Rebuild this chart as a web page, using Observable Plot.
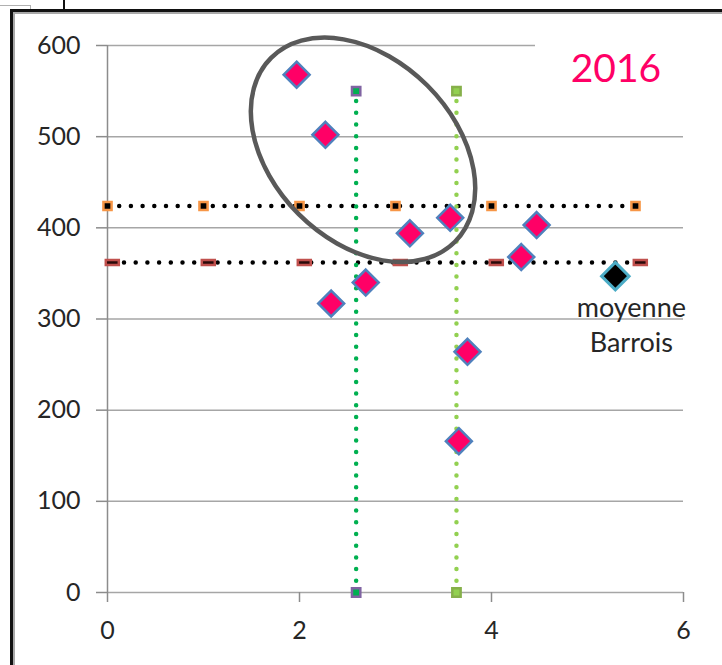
<!DOCTYPE html>
<html>
<head>
<meta charset="utf-8">
<script src="https://cdn.jsdelivr.net/npm/d3@7"></script>
<script src="https://cdn.jsdelivr.net/npm/@observablehq/plot@0.6"></script>
<style>
html, body { margin: 0; padding: 0; background: #fff; }
#wrap { position: relative; width: 722px; height: 665px; overflow: hidden; font-family: Lato, sans-serif; }
#wrap svg { position: absolute; left: 0; top: 0; }
.deco { position: absolute; z-index: 5; }
#title { position: absolute; z-index: 4; left: 535px; top: 30px; width: 162px; height: 62px; background: #fff;
  color: #FF0066; font-family: Lato, sans-serif; font-size: 39px; line-height: 47px; padding-top: 14px;
  box-sizing: border-box; text-align: center; }
</style>
</head>
<body>
<div id="wrap">
  <div id="title">2016</div>
  <div class="deco" style="left:0;top:5px;width:30px;height:1px;background:#b0b0b0"></div>
  <div class="deco" style="left:30px;top:5px;width:1px;height:5px;background:#b0b0b0"></div>
  <div class="deco" style="left:63px;top:0;width:2px;height:10px;background:#111"></div>
  <div class="deco" style="left:10px;top:9px;width:712px;height:3px;background:#111"></div>
  <div class="deco" style="left:13px;top:12px;width:709px;height:2px;background:#a8a8a8"></div>
  <div class="deco" style="left:10px;top:9px;width:3px;height:656px;background:#111"></div>
  <div class="deco" style="left:13px;top:12px;width:2px;height:653px;background:#a8a8a8"></div>
</div>
<script>
// ---- data ----
const xTicks = [0, 2, 4, 6];
const yTicks = [0, 100, 200, 300, 400, 500, 600];

// pink diamonds (communes)
const pinkX = [1.97, 2.27, 2.33, 2.69, 3.15, 3.57, 3.75, 3.66, 4.31, 4.47];
const pinkY = [568, 502, 317, 340, 394, 411, 264, 166, 368, 403];

// black diamond: moyenne Barrois
const meanX = [5.29];
const meanY = [347];
const meanLabel = ["moyenne\nBarrois"];

// horizontal reference line (orange square markers)
const orangeX = [0, 1, 2, 3, 4, 5.5];
const orangeY = [424, 424, 424, 424, 424, 424];

// horizontal reference line (red dash markers)
const redX = [0.05, 1.05, 2.05, 3.05, 4.05, 5.55];
const redY = [362, 362, 362, 362, 362, 362];

// vertical reference lines
const greenX = [2.59, 2.59];
const greenY = [0, 550];
const limeX = [3.635, 3.635];
const limeY = [0, 550];

// highlighted group (ellipse centre in data units)
const ellipseCenter = {x: 2.667, y: 485};

// ---- tables for the library ----
const zip = (xs, ys) => xs.map((x, i) => ({x, y: ys[i]}));
const pink = zip(pinkX, pinkY);
const mean = meanX.map((x, i) => ({x, y: meanY[i], label: meanLabel[i]}));
const orange = zip(orangeX, orangeY);
const red = zip(redX, redY);
const green = zip(greenX, greenY);
const lime = zip(limeX, limeY);

const dashSymbol = { draw(ctx) { ctx.rect(-6.5, -2.4, 13, 4.8); } };
const dotted = {strokeWidth: 4.5, strokeDasharray: "0 11.7", strokeLinecap: "round"};

const plot = Plot.plot({
  width: 722,
  height: 665,
  marginLeft: 107,
  marginRight: 39,
  marginTop: 45,
  marginBottom: 73,
  style: {fontFamily: "Lato, sans-serif", fontSize: "25px", background: "transparent", overflow: "visible"},
  x: {domain: [0, 6], label: null},
  y: {domain: [0, 600], label: null},
  marks: [
    Plot.ruleY(yTicks, {x1: 0, x2: 6, stroke: "#a6a6a6", strokeWidth: 1.5}),
    Plot.ruleX([0], {y1: 0, y2: 600, stroke: "#8c8c8c", strokeWidth: 1.5}),
    Plot.axisY({ticks: yTicks, tickSize: 11, tickPadding: 16, stroke: "#8c8c8c", strokeWidth: 1.5, fill: "#262626", tickFormat: d3.format("d")}),
    Plot.axisX({ticks: xTicks, tickSize: 10, tickPadding: 19, stroke: "#8c8c8c", strokeWidth: 1.5, fill: "#262626", tickFormat: d3.format("d")}),
    Plot.line(orange, {x: "x", y: "y", stroke: "#000", ...dotted}),
    Plot.line(red, {x: "x", y: "y", stroke: "#000", ...dotted}),
    Plot.dot(orange, {x: "x", y: "y", symbol: "square", r: 4.6, fill: "#000", stroke: "#F79646", strokeWidth: 2.5}),
    Plot.dot(red, {x: "x", y: "y", symbol: dashSymbol, fill: "#2a0a0a", stroke: "#C0504D", strokeWidth: 2.5}),
    Plot.line(green, {x: "x", y: "y", stroke: "#00B050", ...dotted}),
    Plot.line(lime, {x: "x", y: "y", stroke: "#92D050", ...dotted}),
    Plot.dot(green, {x: "x", y: "y", symbol: "square", r: 4.7, fill: "#00B050", stroke: "#8064A2", strokeWidth: 2.5}),
    Plot.dot(lime, {x: "x", y: "y", symbol: "square", r: 4.7, fill: "#92D050", stroke: "#86B04A", strokeWidth: 2.5}),
    Plot.dot(pink, {x: "x", y: "y", symbol: "diamond2", r: 11.7, fill: "#FF0066", stroke: "#4F81BD", strokeWidth: 2.5}),
    Plot.dot(mean, {x: "x", y: "y", symbol: "diamond2", r: 12.4, fill: "#000", stroke: "#4BACC6", strokeWidth: 3}),
    Plot.text(mean, {x: "x", y: "y", text: "label", dx: 16, dy: 16, lineAnchor: "top", lineHeight: 1.3, fontSize: 27, fill: "#262626"})
  ]
});

// ellipse annotation placed through the plot's own scales
const sx = plot.scale("x"), sy = plot.scale("y");
const cx = sx.apply(ellipseCenter.x), cy = sy.apply(ellipseCenter.y);
d3.select(plot).append("ellipse")
  .attr("cx", cx).attr("cy", cy).attr("rx", 130).attr("ry", 91)
  .attr("transform", `rotate(45 ${cx} ${cy})`)
  .attr("fill", "none").attr("stroke", "#595959").attr("stroke-width", 4.5);

document.getElementById("wrap").prepend(plot);
</script>
</body>
</html>
